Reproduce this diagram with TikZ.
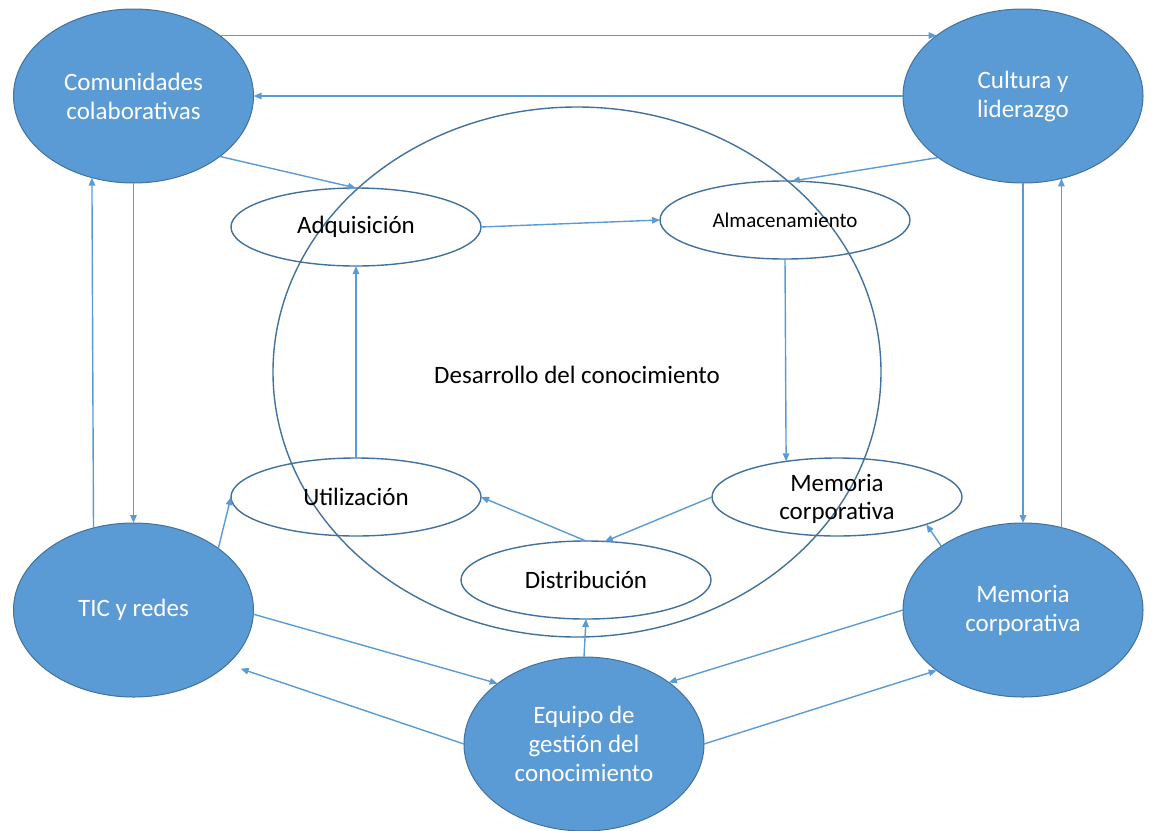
\documentclass[tikz,border=0pt]{standalone}
\usepackage{fontspec}
\setmainfont{Carlito}
\usetikzlibrary{shapes.geometric,arrows.meta}
\definecolor{fillblue}{HTML}{5B9BD5}
\definecolor{edgeblue}{HTML}{41719C}
\begin{document}
\begin{tikzpicture}[x=1pt,y=-1pt,
  hub/.style={ellipse, draw=edgeblue, line width=1pt, fill=fillblue, text=white,
    minimum width=240pt, minimum height=174pt, inner sep=0pt, outer sep=0pt,
    align=center, font=\fontsize{25}{29}\selectfont},
  phase/.style={ellipse, draw=edgeblue, line width=1.4pt,
    minimum width=250pt, minimum height=78pt, inner sep=0pt, outer sep=0pt,
    align=center, font=\fontsize{25}{28}\selectfont},
  cycle/.style={ellipse, draw=edgeblue, line width=1.4pt,
    minimum width=608pt, minimum height=530pt, inner sep=0pt, outer sep=0pt},
  link/.style={draw=fillblue, line width=1.4pt, -{Triangle[length=8pt,width=6.5pt]}}]
\useasboundingbox (0,0) rectangle (1153,830);

% central knowledge-development cycle
\node[cycle] (dev) at (577,372) {};
\node[font=\fontsize{25}{28}\selectfont] (devlabel) at (577,375) {Desarrollo del conocimiento};

% outer hubs
\node[hub] (com) at (133.5,96) {Comunidades\\colaborativas};
\node[hub] (cul) at (1023,96) {Cultura y\\liderazgo};
\node[hub] (tic) at (133.5,610) {TIC y redes};
\node[hub] (memb) at (1023,610) {Memoria\\corporativa};
\node[hub] (equ) at (584,744) {Equipo de\\gestión del\\conocimiento};

% cycle phases
\node[phase] (adq) at (356,227) {Adquisición};
\node[phase, font=\fontsize{21}{24}\selectfont] (alm) at (785,220) {Almacenamiento};
\node[phase] (memw) at (837,497) {};
\node[align=center, font=\fontsize{25}{28}\selectfont] (memwlabel) at (837,499) {Memoria\\corporativa};
\node[phase] (dis) at (586,580) {Distribución};
\node[phase] (uti) at (356,497) {Utilización};

% links between hubs
\draw[link] (com.35) -- (cul.145);
\draw[link] (cul.west) -- (com.east);
\draw[link] (com.south) -- (tic.north);
\draw[link] (tic.116.3) -- (com.243.7);
\draw[link] (cul.south) -- (memb.north);
\draw[link] (memb.65.3) -- (cul.-65.3);
\draw[link] (tic.-2) -- (equ.145.3);
\draw[link, shorten >=14pt] (equ.west) -- (tic.-30);
\draw[link] (memb.west) -- (equ.36.6);
\draw[link] (equ.east) -- (memb.215.2);

% links from hubs into the cycle
\draw[link] (com.-35.6) -- (adq.north);
\draw[link] (cul.-144.6) -- (alm.80);
\draw[link] (tic.36.7) -- (uti.west);
\draw[link] (memb.142.3) -- (memw.-17);
\draw[link] (equ.north) -- (dis.south);

% the cycle itself
\draw[link] (adq.east) -- (alm.west);
\draw[link] (alm.south) -- (memw.145);
\draw[link] (memw.west) -- (dis.64);
\draw[link] (dis.north) -- (uti.east);
\draw[link] (uti.north) -- (adq.south);
\end{tikzpicture}
\end{document}
